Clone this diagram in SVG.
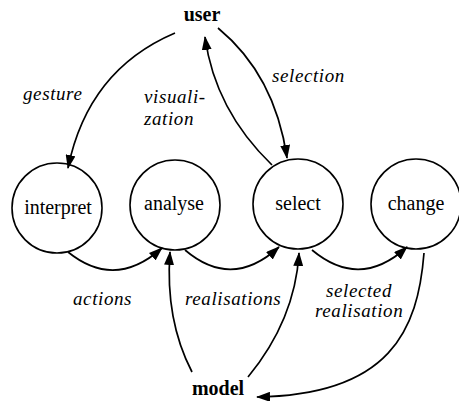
<svg xmlns="http://www.w3.org/2000/svg" width="459" height="401" viewBox="0 0 459 401">
<style>
.node circle{fill:#fff;stroke:#000;stroke-width:1.6}
text{font-family:'Liberation Serif','Times New Roman',Times,'DejaVu Serif',serif;fill:#000}
.nt{font-size:20px;text-anchor:middle}
.bt{font-size:20px;font-weight:bold;text-anchor:middle}
.lbl{font-size:19px;font-style:italic;letter-spacing:0.6px}
.edges path{fill:none;stroke:#000;stroke-width:1.7;marker-end:url(#ah)}
</style>
<defs>
<marker id="ah" markerUnits="userSpaceOnUse" markerWidth="14" markerHeight="10" refX="13" refY="5" orient="auto">
<path d="M0,0 L14,5 L0,10 z" fill="#000"/>
</marker>
</defs>
<rect width="459" height="401" fill="#fff"/>
<g id="user"><text class="bt" x="202" y="21">user</text></g>
<g id="model"><text class="bt" x="218" y="395">model</text></g>
<g id="interpret" class="node"><circle cx="57" cy="208" r="45"/><text class="nt" x="58" y="214">interpret</text></g>
<g id="analyse" class="node"><circle cx="175" cy="205" r="45"/><text class="nt" x="174" y="210">analyse</text></g>
<g id="select" class="node"><circle cx="298" cy="204" r="45"/><text class="nt" x="298" y="210">select</text></g>
<g id="change" class="node"><circle cx="416" cy="204" r="45"/><text class="nt" x="416" y="210">change</text></g>
<g class="edges">
<path d="M175,33 Q88,70 68,168"/>
<path d="M272,165 Q215,110 205,37"/>
<path d="M218,28 Q275,75 287,158"/>
<path d="M68,252 Q115,290 162,248"/>
<path d="M185,250 Q232,290 279,247"/>
<path d="M312,250 Q360,290 407,247"/>
<path d="M192,372 Q165,320 170,252"/>
<path d="M248,377 Q295,320 299,253"/>
<path d="M424,253 C418,330 390,395 257,397"/>
</g>
<g id="labels">
<text class="lbl" x="23" y="100">gesture</text>
<text class="lbl" x="144" y="103">visuali-</text>
<text class="lbl" x="144" y="125">zation</text>
<text class="lbl" x="272" y="82">selection</text>
<text class="lbl" x="73" y="305">actions</text>
<text class="lbl" x="185" y="305">realisations</text>
<text class="lbl" x="326" y="297">selected</text>
<text class="lbl" x="315" y="317">realisation</text>
</g>
</svg>
